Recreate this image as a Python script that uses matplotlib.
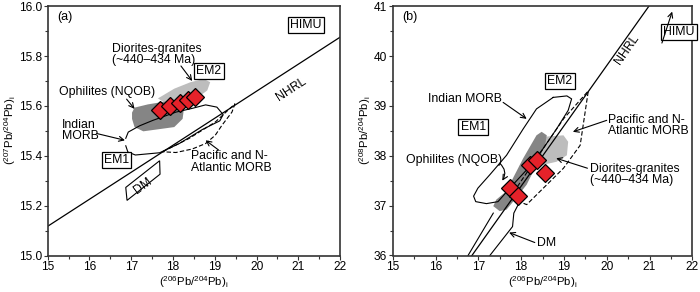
import matplotlib
matplotlib.use('Agg')
import matplotlib.pyplot as plt
from matplotlib.patches import Polygon
from matplotlib.ticker import MultipleLocator, FormatStrFormatter

plt.rcParams['font.family'] = ['Liberation Sans', 'DejaVu Sans']
plt.rcParams['mathtext.default'] = 'regular'
plt.rcParams['font.size'] = 8.8

RED = '#e5222a'
LIGHT = '#bdbdbd'
DARK = '#858585'

# ---- panel (a): 207Pb/204Pb vs 206Pb/204Pb ----
a_samples_x = [17.69, 17.93, 18.17, 18.36, 18.52]
a_samples_y = [15.585, 15.600, 15.612, 15.625, 15.635]

a_ophiolite_x = [17.02, 17.08, 17.40, 17.87, 18.19, 18.27, 18.23, 18.03, 17.64, 17.29, 17.08, 17.02]
a_ophiolite_y = [15.573, 15.593, 15.606, 15.619, 15.626, 15.600, 15.548, 15.515, 15.506, 15.498, 15.515, 15.548]

a_diorite_x = [17.64, 18.03, 18.42, 18.74, 18.89, 18.82, 18.58, 18.27, 18.00]
a_diorite_y = [15.630, 15.669, 15.695, 15.708, 15.695, 15.662, 15.632, 15.600, 15.590]

a_indian_x = [16.87, 16.93, 17.20, 17.52, 18.07, 18.46, 18.78, 19.05, 19.20, 19.12, 18.70, 18.15, 17.68, 17.10, 16.92, 16.87]
a_indian_y = [15.470, 15.495, 15.520, 15.542, 15.575, 15.590, 15.604, 15.595, 15.565, 15.540, 15.505, 15.449, 15.412, 15.403, 15.415, 15.440]

a_pacific_x = [17.75, 18.38, 19.01, 19.48, 19.41, 19.17, 19.01, 18.78, 18.46, 18.07, 17.75]
a_pacific_y = [15.416, 15.469, 15.535, 15.608, 15.575, 15.522, 15.482, 15.449, 15.427, 15.413, 15.416]

a_dm_x = [16.87, 16.90, 17.69, 17.68]
a_dm_y = [15.273, 15.221, 15.326, 15.380]

# ---- panel (b): 208Pb/204Pb vs 206Pb/204Pb ----
b_samples_x = [17.74, 17.93, 18.21, 18.36, 18.56]
b_samples_y = [37.35, 37.19, 37.82, 37.92, 37.65]

b_ophiolite_x = [18.48, 18.60, 18.56, 18.36, 18.13, 17.89, 17.66, 17.50, 17.35, 17.42, 17.66, 17.81, 18.05, 18.36]
b_ophiolite_y = [38.48, 38.41, 38.21, 37.82, 37.42, 37.16, 36.92, 36.89, 36.99, 37.12, 37.29, 37.55, 37.95, 38.41]

b_diorite_x = [18.52, 18.99, 19.10, 19.07, 18.83, 18.52, 18.36, 18.40]
b_diorite_y = [38.38, 38.41, 38.28, 38.01, 37.88, 37.82, 38.01, 38.28]

b_indian_x = [18.75, 18.36, 18.05, 17.66, 17.27, 16.99, 16.89, 16.94, 17.19, 17.46,
              17.81, 18.24, 18.52, 18.83, 19.10, 19.18, 19.07, 18.75]
b_indian_y = [39.17, 38.94, 38.54, 38.01, 37.62, 37.35, 37.19, 37.08, 37.04, 37.08,
              37.42, 37.82, 38.15, 38.54, 38.91, 39.14, 39.20, 39.17]

b_pacific_x = [17.74, 18.36, 19.00, 19.57, 19.38, 18.99, 18.13, 17.74]
b_pacific_y = [37.16, 37.95, 38.75, 39.30, 38.21, 37.75, 37.02, 37.16]

b_dm_left_x = [16.76, 17.35]
b_dm_left_y = [36.0, 36.85]
b_dm_right_x = [17.27, 17.80, 17.83, 17.95]
b_dm_right_y = [36.0, 36.58, 36.85, 37.05]

# NHRL (Hart 1984)
nhrl_x = [15, 22]
nhrl_a = [0.1084 * x + 13.491 for x in nhrl_x]
nhrl_b = [1.209 * x + 15.627 for x in nhrl_x]

fig = plt.figure(figsize=(7, 2.92), dpi=100)
ax1 = fig.add_axes([0.068, 0.125, 0.418, 0.854])
ax2 = fig.add_axes([0.561, 0.125, 0.428, 0.854])

box = dict(boxstyle='square,pad=0.18', fc='white', ec='black', lw=0.9)
arr = dict(arrowstyle='->', lw=0.8, color='black', shrinkA=0, shrinkB=0)


def style(ax, ylo, yhi, ymaj, ymin, ylab, ylab_x):
    ax.set_xlim(15, 22)
    ax.set_ylim(ylo, yhi)
    ax.xaxis.set_major_locator(MultipleLocator(1))
    ax.xaxis.set_minor_locator(MultipleLocator(0.5))
    ax.yaxis.set_major_locator(MultipleLocator(ymaj))
    ax.yaxis.set_minor_locator(MultipleLocator(ymin))
    ax.tick_params(which='both', direction='out', labelsize=8.6, width=0.8, color='#333333', pad=1)
    ax.tick_params(which='major', length=3)
    ax.tick_params(which='minor', length=2.2)
    for s in ax.spines.values():
        s.set_linewidth(1.2)
        s.set_color('#333333')
    ax.set_xlabel(r'($^{206}$Pb/$^{204}$Pb)$_i$', fontsize=8.2)
    ax.xaxis.set_label_coords(0.5, -0.074)
    ax.set_ylabel(ylab, fontsize=8.2, va='center')
    ax.yaxis.set_label_coords(ylab_x, 0.5)


# panel a
style(ax1, 15.0, 16.0, 0.2, 0.1, r'($^{207}$Pb/$^{204}$Pb)$_i$', -0.128)
ax1.yaxis.set_major_formatter(FormatStrFormatter('%.1f'))
ax1.add_patch(Polygon(list(zip(a_diorite_x, a_diorite_y)), closed=True, fc=LIGHT, ec='none', zorder=1))
ax1.add_patch(Polygon(list(zip(a_ophiolite_x, a_ophiolite_y)), closed=True, fc=DARK, ec='none', zorder=1.5))
ax1.plot(nhrl_x, nhrl_a, color='black', lw=0.9, zorder=2)
ax1.plot(a_indian_x, a_indian_y, color='black', lw=0.8, zorder=2)
ax1.plot(a_pacific_x, a_pacific_y, color='black', lw=0.8, ls=(0, (4, 2)), zorder=2)
ax1.add_patch(Polygon(list(zip(a_dm_x, a_dm_y)), closed=True, fc='white', ec='black', lw=0.8, zorder=2))
ax1.plot(a_samples_x, a_samples_y, 'D', ms=9.5, mfc=RED, mec='black', mew=0.9, zorder=5)

ax1.text(15.24, 15.958, '(a)', ha='left', va='center', fontsize=9)
ax1.text(21.18, 15.925, 'HIMU', ha='center', va='center', bbox=box)
ax1.text(18.86, 15.740, 'EM2', ha='center', va='center', bbox=box)
ax1.text(16.65, 15.383, 'EM1', ha='center', va='center', bbox=box)
ax1.text(17.28, 15.280, 'DM', ha='center', va='center', rotation=36)
ax1.text(20.82, 15.665, 'NHRL', ha='center', va='center', rotation=33)
ax1.text(16.53, 15.806, 'Diorites-granites\n(~440\u2013434 Ma)', ha='left', va='center', linespacing=0.95)
ax1.text(15.28, 15.654, 'Ophilites (NQOB)', ha='left', va='center')
ax1.text(15.35, 15.502, 'Indian\nMORB', ha='left', va='center', linespacing=0.95)
ax1.text(18.42, 15.374, 'Pacific and N-\nAtlantic MORB', ha='left', va='center', linespacing=0.95)
ax1.annotate('', xy=(18.46, 15.700), xytext=(18.19, 15.760), arrowprops=arr)
ax1.annotate('', xy=(17.08, 15.588), xytext=(16.89, 15.627), arrowprops=arr)
ax1.annotate('', xy=(16.85, 15.462), xytext=(16.18, 15.489), arrowprops=arr)
ax1.annotate('', xy=(18.78, 15.462), xytext=(19.09, 15.423), arrowprops=arr)

# panel b
style(ax2, 36, 41, 1, 0.5, r'($^{208}$Pb/$^{204}$Pb)$_i$', -0.093)
ax2.add_patch(Polygon(list(zip(b_diorite_x, b_diorite_y)), closed=True, fc=LIGHT, ec='none', zorder=1))
ax2.add_patch(Polygon(list(zip(b_ophiolite_x, b_ophiolite_y)), closed=True, fc=DARK, ec='none', zorder=1.5))
ax2.plot(nhrl_x, nhrl_b, color='black', lw=0.9, zorder=2)
ax2.plot(b_indian_x, b_indian_y, color='black', lw=0.8, zorder=2)
ax2.plot(b_pacific_x, b_pacific_y, color='black', lw=0.8, ls=(0, (4, 2)), zorder=2)
ax2.plot(b_dm_left_x, b_dm_left_y, color='black', lw=0.8, zorder=2)
ax2.plot(b_dm_right_x, b_dm_right_y, color='black', lw=0.8, zorder=2)
ax2.plot(b_samples_x, b_samples_y, 'D', ms=9.5, mfc=RED, mec='black', mew=0.9, zorder=5)

ax2.text(15.23, 40.79, '(b)', ha='left', va='center', fontsize=9)
ax2.text(21.68, 40.48, 'HIMU', ha='center', va='center', bbox=box)
ax2.annotate('', xy=(21.53, 40.89), xytext=(21.29, 40.26), arrowprops=arr)
ax2.text(18.91, 39.50, 'EM2', ha='center', va='center', bbox=box)
ax2.text(16.88, 38.58, 'EM1', ha='center', va='center', bbox=box)
ax2.text(20.47, 40.13, 'NHRL', ha='center', va='center', rotation=55)
ax2.text(15.82, 39.14, 'Indian MORB', ha='left', va='center')
ax2.text(15.31, 37.92, 'Ophilites (NQOB)', ha='left', va='center')
ax2.text(20.02, 38.61, 'Pacific and N-\nAtlantic MORB', ha='left', va='center', linespacing=0.95)
ax2.text(19.60, 37.62, 'Diorites-granites\n(~440\u2013434 Ma)', ha='left', va='center', linespacing=0.95)
ax2.text(18.36, 36.26, 'DM', ha='left', va='center')
ax2.annotate('', xy=(18.13, 38.74), xytext=(17.58, 39.07), arrowprops=arr)
ax2.annotate('', xy=(19.21, 38.48), xytext=(20.00, 38.71), arrowprops=arr)
ax2.annotate('', xy=(18.82, 37.95), xytext=(19.55, 37.75), arrowprops=arr)
ax2.annotate('', xy=(17.56, 37.50), xytext=(17.50, 37.85),
             arrowprops=dict(arr, connectionstyle='arc3,rad=-0.4'))
ax2.annotate('', xy=(17.72, 36.46), xytext=(18.32, 36.26), arrowprops=arr)

fig.savefig('out.png', dpi=100)
